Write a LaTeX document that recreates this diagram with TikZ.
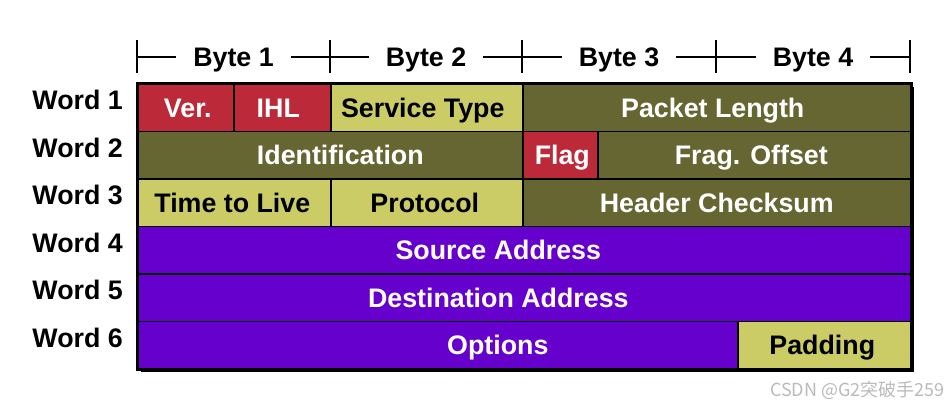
\documentclass[tikz,border=0pt]{standalone}
\usepackage{fontspec}
\setmainfont{Liberation Sans}
\newfontfamily\cjk{Noto Sans CJK SC}
\usepackage{xcolor}
\usetikzlibrary{calc}

\definecolor{fieldred}{HTML}{BC2A3A}
\definecolor{fieldyellow}{HTML}{CCCC66}
\definecolor{fieldolive}{HTML}{666633}
\definecolor{fieldpurple}{HTML}{6600CC}

\begin{document}
\begin{tikzpicture}[
	x = 1pt, y = -1pt,
	every node/.style = {font = \fontsize{26.8}{30}\selectfont\bfseries,
		text height = 19.3pt, text depth = 0pt},
	cell/.style = {draw, line width = 1.6pt, anchor = north west, inner sep = 0pt,
		minimum height = 47.5pt},
	redcell/.style = {cell, fill = fieldred},
	yellowcell/.style = {cell, fill = fieldyellow},
	olivecell/.style = {cell, fill = fieldolive},
	purplecell/.style = {cell, fill = fieldpurple},
	light/.style = {text = white, inner sep = 0pt},
	dark/.style = {text = black, inner sep = 0pt},
	byte/.style = {fill = white, inner xsep = 17pt, inner ysep = 2pt},
	word/.style = {anchor = east, inner sep = 0pt}
]
\useasboundingbox (0,0) rectangle (947,407);

% byte ruler
\foreach \x in {137, 330, 522, 716, 910}
	\draw[line width = 1.2pt] (\x,40) -- (\x,73);
\draw[line width = 1.2pt] (137,57) -- (910,57);
\node[byte] (b1) at (233.5,57) {Byte 1};
\node[byte] (b2) at (426,57) {Byte 2};
\node[byte] (b3) at (619,57) {Byte 3};
\node[byte] (b4) at (813,57) {Byte 4};

% words
\foreach \i in {1,...,6}
	\node[word] (w\i) at (123, 52.5 + 47.5*\i) {Word \i};

% shadow
\fill[black] (141,87) rectangle (914,372);

% cells
\node[redcell, minimum width = 96pt] (ver) at (137,83) {};
\node[redcell, minimum width = 97pt] (ihl) at (233,83) {};
\node[yellowcell, minimum width = 192pt] (tos) at (330,83) {};
\node[olivecell, minimum width = 388pt] (len) at (522,83) {};
\node[olivecell, minimum width = 385pt] (ident) at (137,130.5) {};
\node[redcell, minimum width = 75pt] (flag) at (522,130.5) {};
\node[olivecell, minimum width = 313pt] (frag) at (597,130.5) {};
\node[yellowcell, minimum width = 193pt] (ttl) at (137,178) {};
\node[yellowcell, minimum width = 192pt] (proto) at (330,178) {};
\node[olivecell, minimum width = 388pt] (csum) at (522,178) {};
\node[purplecell, minimum width = 773pt] (src) at (137,225.5) {};
\node[purplecell, minimum width = 773pt] (dst) at (137,273) {};
\node[purplecell, minimum width = 600pt] (opt) at (137,320.5) {};
\node[yellowcell, minimum width = 173pt] (pad) at (737,320.5) {};

\draw[line width = 2pt] (ver.north west) rectangle (pad.south east);

% field names
\node[light] (vert) at ([xshift = 2pt]ver.center) {Ver.};
\node[light] (ihlt) at ([xshift = -4pt]ihl.center) {IHL};
\node[dark] (tost) at ([xshift = -4pt]tos.center) {Service Type};
\node[light] (lent) at ([xshift = -4pt]len.center) {Packet Length};
\node[light] (identt) at ([xshift = 10pt]ident.center) {Identification};
\node[light] (flagt) at ([xshift = 2pt]flag.center) {Flag};
\node[light] (fragt) at ([xshift = -3pt]frag.center) {Frag. Offset};
\node[dark] (ttlt) at ([xshift = -2pt]ttl.center) {Time to Live};
\node[dark] (protot) at ([xshift = -2pt]proto.center) {Protocol};
\node[light] (csumt) at (csum.center) {Header Checksum};
\node[light] (srct) at ([xshift = -26pt]src.center) {Source Address};
\node[light] (dstt) at ([xshift = -26pt]dst.center) {Destination Address};
\node[light] (optt) at ([xshift = 60pt]opt.center) {Options};
\node[dark] (padt) at ([xshift = -2pt]pad.center) {Padding};

\node[anchor = east, inner sep = 0pt, text = black!27, text height = , text depth = ,
	font = \cjk\fontsize{18}{21}\selectfont] (mark) at (945,390) {CSDN @G2突破手259};
\end{tikzpicture}
\end{document}
